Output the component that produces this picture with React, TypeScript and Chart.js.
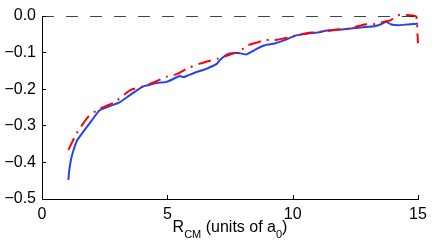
import React, { useEffect, useRef } from "react";
import { Chart, registerables } from "chart.js";

Chart.register(...registerables);

const blueX = [1.05, 1.1, 1.18, 1.3, 1.41, 1.65, 1.98, 2.31, 2.71, 3.11, 3.51, 4.04, 4.3, 4.57, 4.97, 5.5, 5.64, 5.8, 6.17, 6.57, 6.97, 7.1, 7.4, 7.82, 8.15, 8.48, 8.88, 9.28, 9.68, 10.15, 10.61, 11.0, 11.41, 11.94, 12.34, 12.87, 13.27, 13.55, 13.73, 13.93, 14.2, 14.6, 15.0];
const blueY = [-0.448, -0.415, -0.385, -0.358, -0.339, -0.316, -0.286, -0.257, -0.246, -0.235, -0.216, -0.192, -0.188, -0.183, -0.18, -0.164, -0.167, -0.163, -0.153, -0.144, -0.131, -0.12, -0.104, -0.101, -0.105, -0.093, -0.08, -0.075, -0.066, -0.053, -0.048, -0.045, -0.039, -0.037, -0.034, -0.03, -0.028, -0.022, -0.016, -0.023, -0.025, -0.023, -0.021];

const redX = [1.05, 1.38, 1.85, 2.31, 2.91, 3.51, 4.04, 4.5, 4.97, 5.4, 5.77, 6.3, 7.03, 7.4, 7.82, 8.05, 8.22, 8.6, 8.88, 9.28, 9.6, 9.94, 10.3, 10.74, 11.3, 11.81, 12.1, 12.5, 12.87, 13.3, 13.73, 13.9, 14.2, 14.67, 14.93, 14.98, 15.0];
const redY = [-0.366, -0.321, -0.275, -0.253, -0.235, -0.203, -0.192, -0.18, -0.166, -0.158, -0.144, -0.13, -0.116, -0.108, -0.098, -0.088, -0.08, -0.072, -0.066, -0.066, -0.062, -0.057, -0.05, -0.045, -0.042, -0.037, -0.036, -0.03, -0.023, -0.022, -0.014, -0.012, 0.002, 0.002, -0.002, -0.05, -0.074];

const zeroX = [0, 15];
const zeroY = [0, 0];

const xTicks = [0, 5, 10, 15];
const yTicks = [-0.5, -0.4, -0.3, -0.2, -0.1, 0.0];

const FONT = '"Liberation Sans", Arial, Helvetica, sans-serif';

const toPts = (xs: number[], ys: number[]) => xs.map((x, i) => ({ x, y: ys[i] }));

const axisPlugin = {
  id: "matlabAxes",
  afterDraw(chart: any) {
    const ctx = chart.ctx;
    const { left, right, bottom } = chart.chartArea;
    const xs = chart.scales.x;
    const ys = chart.scales.y;
    ctx.save();
    ctx.strokeStyle = "#000";
    ctx.lineWidth = 1;
    ctx.beginPath();
    xTicks.forEach((v) => {
      const px = Math.round(xs.getPixelForValue(v)) + 0.5;
      ctx.moveTo(px, bottom);
      ctx.lineTo(px, bottom - 4);
    });
    yTicks.forEach((v) => {
      const py = Math.floor(ys.getPixelForValue(v)) + 0.5;
      ctx.moveTo(left, py);
      ctx.lineTo(left + 4, py);
    });
    ctx.stroke();

    // x-axis title with subscripts
    const parts = [
      { t: "R", s: 16, dy: 0 },
      { t: "CM", s: 11, dy: 6 },
      { t: " (units of a", s: 16, dy: 0 },
      { t: "0", s: 11, dy: 6 },
      { t: ")", s: 16, dy: 0 },
    ];
    let total = 0;
    parts.forEach((p) => {
      ctx.font = `${p.s}px ${FONT}`;
      total += ctx.measureText(p.t).width;
    });
    let x = (left + right) / 2 - total / 2;
    const base = 232;
    ctx.fillStyle = "#000";
    ctx.textBaseline = "alphabetic";
    ctx.textAlign = "left";
    parts.forEach((p) => {
      ctx.font = `${p.s}px ${FONT}`;
      ctx.fillText(p.t, x, base + p.dy);
      x += ctx.measureText(p.t).width;
    });
    ctx.restore();
  },
};

export default function App() {
  const ref = useRef<HTMLCanvasElement | null>(null);
  useEffect(() => {
    document.body.style.margin = "0";
    if (!ref.current) return;
    const chart = new Chart(ref.current, {
      type: "line",
      data: {
        datasets: [
          {
            data: toPts(zeroX, zeroY),
            borderColor: "#000",
            borderWidth: 1.5,
            borderDash: [12, 12],
            pointRadius: 0,
            fill: false,
          },
          {
            data: toPts(redX, redY),
            borderColor: "#ff0000",
            borderWidth: 2,
            borderDash: [13, 6, 2, 6],
            pointRadius: 0,
            tension: 0.2,
            fill: false,
            clip: 6,
          },
          {
            data: toPts(blueX, blueY),
            borderColor: "rgb(35,65,245)",
            borderWidth: 2,
            pointRadius: 0,
            tension: 0.2,
            fill: false,
          },
        ],
      },
      options: {
        animation: false,
        responsive: false,
        layout: { padding: { left: 0, right: 18, top: 16, bottom: 0 } },
        plugins: { legend: { display: false }, tooltip: { enabled: false } },
        scales: {
          x: {
            type: "linear",
            min: 0,
            max: 15,
            afterBuildTicks: (s: any) => {
              s.ticks = xTicks.map((v) => ({ value: v }));
            },
            afterFit: (s: any) => {
              s.height = 46;
            },
            grid: { display: false, drawTicks: false },
            border: { display: true, color: "#000", width: 1 },
            ticks: {
              color: "#000",
              padding: 6,
              font: { family: FONT, size: 16 },
              callback: (v: any) => String(v),
            },
          },
          y: {
            type: "linear",
            min: -0.5,
            max: 0,
            afterBuildTicks: (s: any) => {
              s.ticks = yTicks.map((v) => ({ value: v }));
            },
            afterFit: (s: any) => {
              s.width = 42;
            },
            grid: { display: false, drawTicks: false },
            border: { display: true, color: "#000", width: 1 },
            ticks: {
              color: "#000",
              padding: 6,
              font: { family: FONT, size: 16 },
              callback: (v: any) => {
                const n = Number(v);
                return Math.abs(n) < 1e-9 ? "0.0" : "\u2212" + Math.abs(n).toFixed(1);
              },
            },
          },
        },
      },
      plugins: [axisPlugin],
    } as any);
    return () => chart.destroy();
  }, []);
  return (
    <div style={{ position: "fixed", left: 0, top: 0, width: 436, height: 245, background: "#fff" }}>
      <canvas ref={ref} width={436} height={245} />
    </div>
  );
}
